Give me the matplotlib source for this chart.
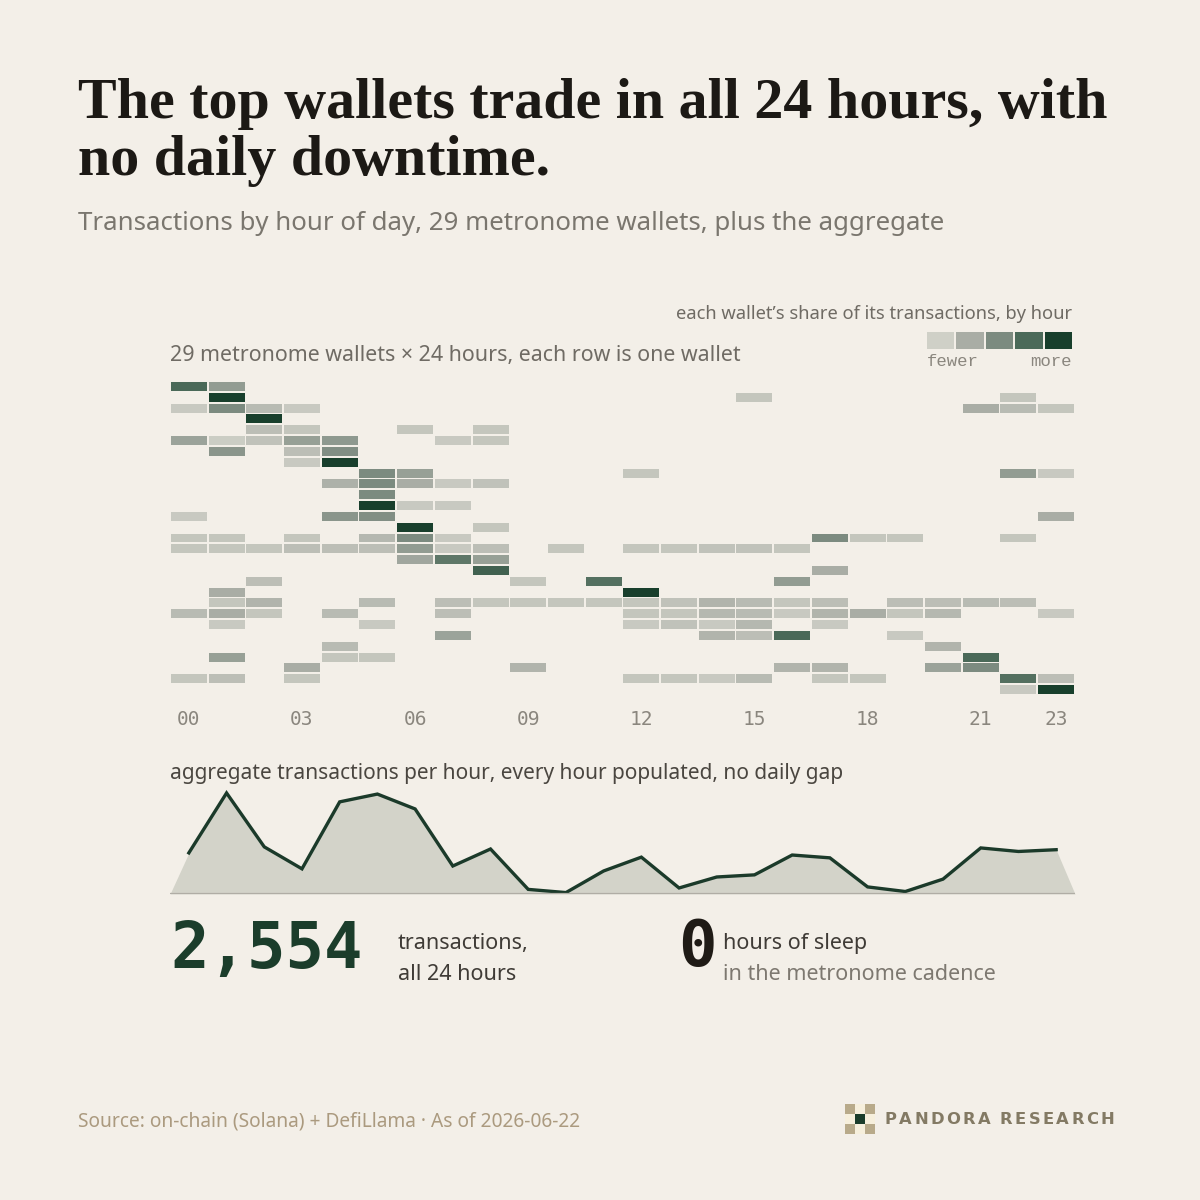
import numpy as np
import matplotlib
matplotlib.use("Agg")
import matplotlib.pyplot as plt
from matplotlib.colors import LinearSegmentedColormap, Normalize

# hour-of-day share per wallet, binned 1 (fewer) .. 5 (more); missing = no trades
hours = list(range(24))
wallet_cells = [
    {0: 4, 1: 2.5},
    {1: 5, 15: 1.3, 22: 1.3},
    {0: 1.2, 1: 3, 2: 1.6, 3: 1.2, 21: 2, 22: 1.6, 23: 1.3},
    {2: 5},
    {2: 1.5, 3: 1.3, 6: 1.3, 8: 1.3},
    {0: 2.3, 1: 1.1, 2: 1.4, 3: 2.4, 4: 2.6, 7: 1.2, 8: 1.3},
    {1: 2.7, 3: 1.5, 4: 2.9},
    {3: 1.2, 4: 5},
    {5: 3, 6: 2.4, 12: 1.3, 22: 2.5, 23: 1.2},
    {4: 1.9, 5: 3, 6: 2, 7: 1.2, 8: 1.4},
    {5: 3},
    {5: 5, 6: 1.2, 7: 1.2},
    {0: 1.2, 4: 2.7, 5: 2.9, 23: 2},
    {6: 5, 8: 1.3},
    {0: 1.3, 1: 1.3, 3: 1.3, 5: 1.7, 6: 3, 7: 1.2, 17: 3, 18: 1.3, 19: 1.3, 22: 1.3},
    {0: 1.3, 1: 1.3, 2: 1.3, 3: 1.5, 4: 1.5, 5: 1.5, 6: 2.5, 7: 1.2, 8: 1.5,
     10: 1.3, 12: 1.3, 13: 1.3, 14: 1.4, 15: 1.4, 16: 1.3},
    {6: 2.2, 7: 3.6, 8: 2.4},
    {8: 4.2, 17: 2},
    {2: 1.5, 9: 1.3, 11: 3.8, 16: 2.5},
    {1: 2, 12: 5},
    {1: 1.3, 2: 1.8, 5: 1.6, 7: 1.5, 8: 1.3, 9: 1.3, 10: 1.3, 11: 1.3, 12: 1.3, 13: 1.4,
     14: 1.8, 15: 1.6, 16: 1.3, 17: 1.5, 19: 1.5, 20: 1.5, 21: 1.6, 22: 1.5},
    {0: 1.6, 1: 2, 2: 1.3, 4: 1.6, 7: 1.5, 12: 1.3, 13: 1.3, 14: 1.7, 15: 1.6, 16: 1.2,
     17: 1.8, 18: 2, 19: 1.3, 20: 1.7, 23: 1.2},
    {1: 1.2, 5: 1.2, 12: 1.2, 13: 1.4, 14: 1.2, 15: 1.7, 17: 1.2},
    {7: 2.3, 14: 1.8, 15: 1.5, 16: 4, 19: 1.2},
    {4: 1.6, 20: 1.8},
    {1: 2.4, 4: 1.3, 5: 1.3, 21: 4},
    {3: 2, 9: 1.8, 16: 1.8, 17: 1.8, 20: 2.3, 21: 3},
    {0: 1.3, 1: 1.5, 3: 1.3, 12: 1.3, 13: 1.3, 14: 1.2, 15: 1.6, 17: 1.3, 18: 1.3, 22: 3.8, 23: 1.5},
    {22: 1.2, 23: 5},
]
tick_hours = [0, 3, 6, 9, 12, 15, 18, 21, 23]
tick_labels = ["00", "03", "06", "09", "12", "15", "18", "21", "23"]

# aggregate transactions per hour (sums to 2,554)
agg_tx = [116, 285, 133, 71, 260, 282, 240, 79, 127, 13, 4, 65,
          104, 17, 48, 54, 110, 102, 20, 7, 42, 130, 120, 125]
total_tx = "2,554"
sleep_hours = "0"

BG = "#f3efe8"
heat_colors = ["#cfd0c7", "#a9ada5", "#7c8b80", "#4b6a59", "#183f2c"]
cmap = LinearSegmentedColormap.from_list("share", heat_colors)
norm = Normalize(1, 5)
SANS = ["Noto Sans", "DejaVu Sans"]
MONO = "DejaVu Sans Mono"

W = H = 1200
fig = plt.figure(figsize=(12, 12), dpi=100, facecolor=BG)


def fx(x):
    return x / W


def fy(y):
    return 1 - y / H


def box(x0, y0, x1, y1):
    return [fx(x0), fy(y1), fx(x1) - fx(x0), fy(y0) - fy(y1)]


# title block
fig.text(fx(78), fy(118), "The top wallets trade in all 24 hours, with",
         family="Liberation Serif", weight="bold", fontsize=41.8, color="#1c1915", va="baseline")
fig.text(fx(78), fy(175), "no daily downtime.",
         family="Liberation Serif", weight="bold", fontsize=41.8, color="#1c1915", va="baseline")
fig.text(fx(78), fy(224), "Transactions by hour of day, 29 metronome wallets, plus the aggregate",
         family=SANS, fontsize=18.6, color="#7a766e", va="center")

# heatmap: one bar per populated wallet-hour cell
ax = fig.add_axes(box(170, 381, 1075, 695))
ax.set_facecolor(BG)
for r, cells in enumerate(wallet_cells):
    hs = list(cells.keys())
    vals = list(cells.values())
    ax.bar(hs, 0.83, bottom=r - 0.415, width=0.955, color=cmap(norm(vals)), lw=0)
ax.set_xlim(-0.5, 23.5)
ax.set_ylim(len(wallet_cells) - 0.5, -0.5)
ax.set_yticks([])
ax.set_xticks(tick_hours)
ax.set_xticklabels(tick_labels, family=MONO, fontsize=14, color="#8a867e")
ax.tick_params(axis="x", length=0, pad=11)
for s in ax.spines.values():
    s.set_visible(False)

fig.text(fx(170), fy(355), "29 metronome wallets \u00d7 24 hours, each row is one wallet",
         family=SANS, fontsize=15.4, color="#6f6b64", va="center")
fig.text(fx(1072), fy(314), "each wallet\u2019s share of its transactions, by hour",
         family=SANS, fontsize=13.2, color="#6f6b64", va="center", ha="right")

# legend swatches
lax = fig.add_axes(box(927, 332, 1072, 349))
lax.bar(range(5), [1] * 5, width=0.93, color=heat_colors)
lax.set_xlim(-0.47, 4.47)
lax.set_ylim(0, 1)
lax.axis("off")
fig.text(fx(927), fy(361), "fewer", family="Liberation Mono", fontsize=12.5,
         color="#8a867e", va="center")
fig.text(fx(1072), fy(361), "more", family="Liberation Mono", fontsize=12.5,
         color="#8a867e", va="center", ha="right")

# aggregate area
fig.text(fx(170), fy(774), "aggregate transactions per hour, every hour populated, no daily gap",
         family=SANS, fontsize=15, color="#4a4640", va="center")
scale_px = 101 / 285.0
top_val = (894 - 785) / scale_px
aax = fig.add_axes(box(170, 785, 1075, 894))
aax.set_facecolor("none")
fill_x = [-0.5] + hours + [23.5]
fill_y = [0] + agg_tx + [0]
aax.fill_between(fill_x, fill_y, 0, color="#d3d3c9", lw=0)
aax.plot(hours, agg_tx, color="#1b3a2a", lw=2.4, solid_joinstyle="miter")
aax.axhline(0, color="#b0ada5", lw=1.6)
aax.set_xlim(-0.5, 23.5)
aax.set_ylim(0, top_val)
aax.axis("off")

# stats
fig.text(fx(170), fy(950), total_tx, family=MONO, weight="bold", fontsize=46,
         color="#1b3d2b", va="center")
fig.text(fx(398), fy(944), "transactions,", family=SANS, fontsize=15.5, color="#3f3b36", va="center")
fig.text(fx(398), fy(974), "all 24 hours", family=SANS, fontsize=15.5, color="#3f3b36", va="center")
fig.text(fx(678), fy(948), sleep_hours, family=MONO, weight="bold", fontsize=46,
         color="#1f1b16", va="center")
fig.text(fx(723), fy(944), "hours of sleep", family=SANS, fontsize=15.5, color="#3f3b36", va="center")
fig.text(fx(723), fy(974), "in the metronome cadence", family=SANS, fontsize=15.5,
         color="#7d7870", va="center")

# footer
fig.text(fx(78), fy(1122), "Source: on-chain (Solana) + DefiLlama \u00b7 As of 2026-06-22",
         family=SANS, fontsize=13.8, color="#ab9a7f", va="center")
logo = np.array([[1, 0, 1], [0, 2, 0], [1, 0, 1]])
gax = fig.add_axes(box(845, 1104, 875, 1134))
gax.pcolormesh(logo, cmap=LinearSegmentedColormap.from_list("logo", ["#f6efdc", "#b9aa8a", "#1b3d2b"]),
               vmin=0, vmax=2)
gax.set_ylim(3, 0)
gax.axis("off")

# letter-spaced brand name, advancing by each glyph's measured width
brand = "PANDORA RESEARCH"
renderer = fig.canvas.get_renderer()
x = 885.0
for ch in brand:
    if ch == " ":
        x += 7
        continue
    t = fig.text(fx(x), fy(1120), ch, family="DejaVu Sans", weight="bold",
                 fontsize=11.8, color="#837a64", va="center")
    x += t.get_window_extent(renderer).width + 2.4

fig.savefig("out.png", dpi=100, facecolor=BG)
